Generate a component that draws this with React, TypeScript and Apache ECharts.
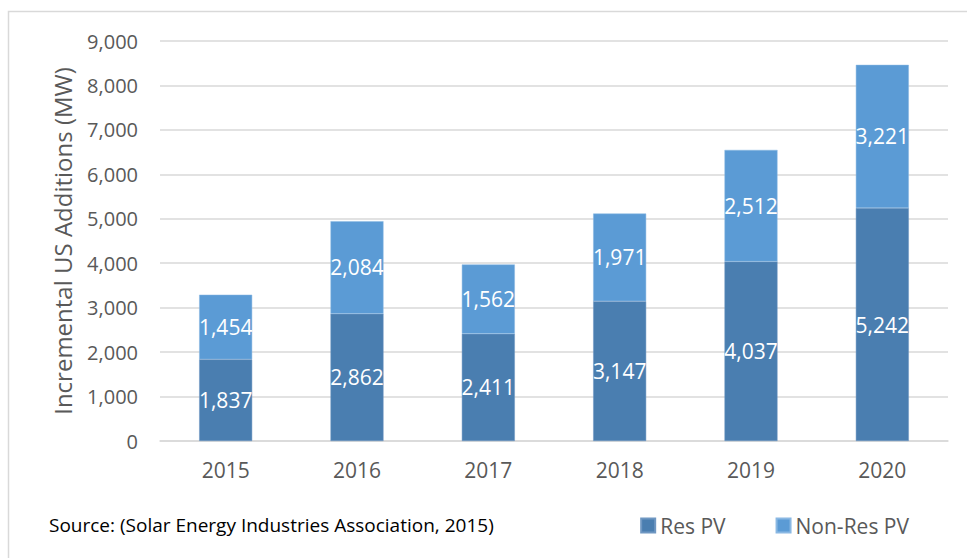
import React, { useEffect, useRef } from "react";
import * as echarts from "echarts";

const categories = ["2015", "2016", "2017", "2018", "2019", "2020"];
const resPV = [1837, 2862, 2411, 3147, 4037, 5242];
const nonResPV = [1454, 2084, 1562, 1971, 2512, 3221];
const yTicks = { min: 0, max: 9000, interval: 1000 };

const FONT = "'Open Sans', 'Noto Sans', sans-serif";

export default function App() {
  const ref = useRef<HTMLDivElement>(null);
  useEffect(() => {
    if (!ref.current) return;
    const chart = echarts.init(ref.current, null, { renderer: "svg" });
    const fmt = (p: any) => Number(p.value).toLocaleString("en-US");
    chart.setOption({
      animation: false,
      backgroundColor: "#ffffff",
      textStyle: { fontFamily: FONT },
      grid: { left: 160, right: 19, top: 41, bottom: 117, containLabel: false },
      legend: {
        data: ["Res PV", "Non-Res PV"],
        right: 53,
        top: 510,
        itemWidth: 14,
        itemHeight: 14,
        itemGap: 50,
        icon: "rect",
        textStyle: { color: "#595959", fontSize: 21, fontFamily: FONT },
      },
      graphic: [
        {
          type: "rect",
          shape: { x: 8.5, y: 11.5, width: 1000, height: 600 },
          style: { fill: "none", stroke: "#d9d9d9", lineWidth: 1.5 },
          silent: true,
        },
        {
          type: "text",
          x: 49,
          y: 525,
          style: {
            text: "Source: (Solar Energy Industries Association, 2015)",
            fill: "#000000",
            font: `19px ${FONT}`,
            textVerticalAlign: "middle",
          },
        },
      ],
      xAxis: {
        type: "category",
        data: categories,
        axisLine: { lineStyle: { color: "#d9d9d9", width: 1.5 } },
        axisTick: { show: false },
        axisLabel: { color: "#595959", fontSize: 21, margin: 18, fontFamily: FONT },
      },
      yAxis: {
        type: "value",
        min: yTicks.min,
        max: yTicks.max,
        interval: yTicks.interval,
        name: "Incremental US Additions (MW)",
        nameLocation: "middle",
        nameGap: 86,
        nameTextStyle: { color: "#595959", fontSize: 24, fontFamily: FONT },
        axisLine: { show: false },
        axisTick: { show: false },
        splitLine: { lineStyle: { color: "#d9d9d9", width: 1.5 } },
        axisLabel: {
          color: "#595959",
          fontSize: 20,
          margin: 22,
          fontFamily: FONT,
          formatter: (v: number) => v.toLocaleString("en-US"),
        },
      },
      series: [
        {
          name: "Res PV",
          type: "bar",
          stack: "total",
          data: resPV,
          barWidth: 53,
          itemStyle: { color: "#4a7eb0", borderColor: "#6f97c2", borderWidth: 0.5 },
          label: { show: true, position: "inside", color: "#ffffff", fontSize: 21, fontFamily: FONT, formatter: fmt },
        },
        {
          name: "Non-Res PV",
          type: "bar",
          stack: "total",
          data: nonResPV,
          barWidth: 53,
          itemStyle: { color: "#5b9bd5", borderColor: "#8ab8e3", borderWidth: 0.5 },
          label: { show: true, position: "inside", color: "#ffffff", fontSize: 21, fontFamily: FONT, formatter: fmt },
        },
      ],
    });
    return () => chart.dispose();
  }, []);
  return (
    <div
      ref={ref}
      style={{ position: "absolute", left: 0, top: 0, width: 967, height: 558 }}
    />
  );
}
